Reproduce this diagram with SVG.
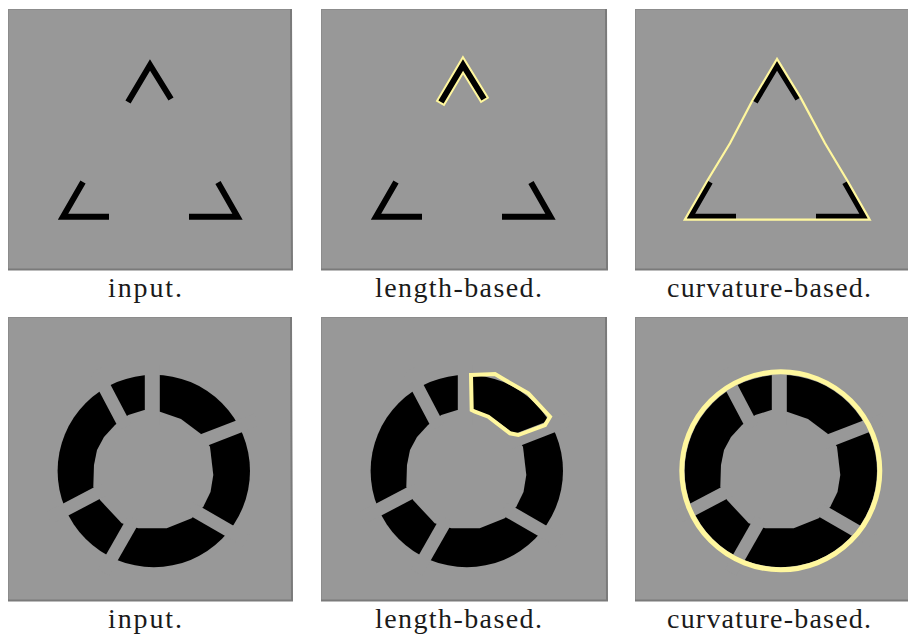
<svg xmlns="http://www.w3.org/2000/svg" xmlns:xlink="http://www.w3.org/1999/xlink" width="908" height="634" viewBox="0 0 908 634">
<style>
.panel{fill:#989898;stroke:#8c8c8c;stroke-width:1}
.pedge{stroke:#7a7a7a;stroke-width:2;fill:none}
.stroke{fill:none;stroke:#000;stroke-width:6;stroke-linejoin:miter;stroke-miterlimit:10;stroke-linecap:butt}
.disc{fill:#000}
.hole{fill:#989898}
.gap{stroke:#989898;stroke-width:13;stroke-linecap:butt}
.hl{fill:none;stroke:#fff79e;stroke-linejoin:miter}
.lbl{font-family:"Liberation Serif","Times New Roman",serif;font-size:28px;fill:#1a1a1a;text-anchor:middle}
</style>
<defs>
<g id="tri">
<polyline class="stroke" points="128,102 150,65 171,99"/>
<polyline class="stroke" points="83,182 63,216.7 109,216.7"/>
<polyline class="stroke" points="189,216.7 237.5,216.7 218,182.5"/>
</g>
<g id="ringsrc">
<circle class="disc" cx="153.8" cy="471" r="96.2"/>
<polygon class="hole" points="144.3,410 160,411.7 181,419 200,433.3 210,446.7 213.3,475 210.5,492 203.3,506.7 191.7,518.3 166.7,528.3 138.3,528.3 121.7,523.3 100,500 93.3,486.7 94,465 97,450 104,437 115,425 128.3,415"/>
<line class="gap" x1="152.3" y1="425" x2="152.3" y2="365" style="stroke-width:15"/>
<line class="gap" x1="196.5" y1="442.9" x2="256.9" y2="419.5"/>
<line class="gap" x1="190.4" y1="508.3" x2="246.3" y2="540.7"/>
<line class="gap" x1="134" y1="518.7" x2="103.4" y2="572.4"/>
<line class="gap" x1="103.8" y1="489.6" x2="49" y2="518.3"/>
<line class="gap" x1="125.4" y1="427" x2="95.7" y2="370.6"/>
</g>
</defs>
<rect width="908" height="634" fill="#fff"/>

<g id="tri-input">
<rect class="panel" x="8.5" y="9.5" width="283" height="260"/>
<polyline class="pedge" points="8,269.5 292,269.5 291,9"/>
<use xlink:href="#tri"/>
<text class="lbl" x="145" y="297" textLength="74" lengthAdjust="spacing">input.</text>
</g>

<g id="tri-length">
<rect class="panel" x="321.5" y="9.5" width="285" height="260"/>
<polyline class="pedge" points="321,269.5 607,269.5 606,9"/>
<g transform="translate(313,0)">
<polyline class="hl" stroke-width="10" points="127,103.7 150,65 172,100.7"/>
<use xlink:href="#tri"/>
</g>
<text class="lbl" x="458.5" y="297" textLength="167" lengthAdjust="spacing">length-based.</text>
</g>

<g id="tri-curvature">
<rect class="panel" x="635.5" y="9.5" width="285" height="260"/>
<line class="pedge" x1="635" y1="269.5" x2="908" y2="269.5"/>
<g transform="translate(627,0)">
<use xlink:href="#tri"/>
</g>
<polygon class="hl" stroke-width="2.2" points="777,59 752.4,100.5 730,143.3 707.4,180.5 684.8,219.7 869.7,219.7 847.6,181 825,143.3 800.5,97.4"/>
<text class="lbl" x="769" y="297" textLength="204" lengthAdjust="spacing">curvature-based.</text>
</g>

<g id="ring-input">
<rect class="panel" x="8.5" y="317.5" width="283" height="283"/>
<polyline class="pedge" points="8,600.5 292,600.5 291,317"/>
<use xlink:href="#ringsrc"/>
<text class="lbl" x="145" y="628" textLength="74" lengthAdjust="spacing">input.</text>
</g>

<g id="ring-length">
<rect class="panel" x="321.5" y="317.5" width="285" height="283"/>
<polyline class="pedge" points="321,600.5 607,600.5 606,317"/>
<g transform="translate(313,0)">
<use xlink:href="#ringsrc"/>
</g>
<polygon class="hl" stroke-width="4" points="471,375 495,374 505,380 528.3,393.3 550,416.7 545,425 518.3,435 510,433.3 488.3,416.7 475,411.7 471.7,410"/>
<text class="lbl" x="458.5" y="628" textLength="167" lengthAdjust="spacing">length-based.</text>
</g>

<g id="ring-curvature">
<rect class="panel" x="635.5" y="317.5" width="285" height="283"/>
<line class="pedge" x1="635" y1="600.5" x2="908" y2="600.5"/>
<g transform="translate(627,0)">
<use xlink:href="#ringsrc"/>
</g>
<circle class="hl" stroke-width="5" cx="780.8" cy="470.8" r="99"/>
<text class="lbl" x="769" y="628" textLength="204" lengthAdjust="spacing">curvature-based.</text>
</g>
</svg>
